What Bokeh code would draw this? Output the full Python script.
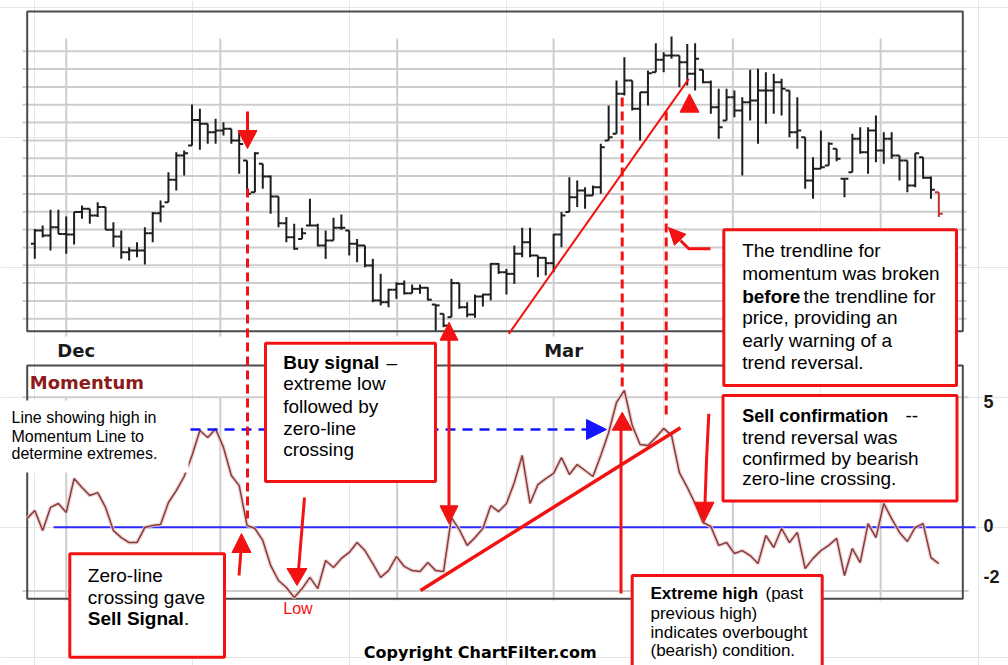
import numpy as np
from bokeh.plotting import figure
from bokeh.models import Range1d
from bokeh.core.properties import value
from bokeh.embed import file_html
from bokeh.resources import INLINE

# ---------------- data ----------------
opens = [44.20, 44.95, 44.67, 45.13, 44.76, 44.73, 45.98, 46.17, 45.79, 46.26,
         44.99, 44.61, 43.73, 43.83, 43.83, 44.80, 45.92, 46.54, 47.79, 49.15,
         49.71, 51.15, 50.93, 50.46, 50.55, 50.65, 49.99, 48.87, 47.10, 48.69,
         47.98, 46.86, 45.36, 44.57, 44.48, 45.23, 45.23, 44.11, 44.39, 45.10,
         44.95, 44.20, 44.11, 42.99, 41.03, 40.93, 41.63, 41.96, 41.43, 41.68,
         41.74, 40.80, 40.28, 40.09, 42.00, 40.65, 40.24, 41.25, 41.36, 43.08,
         42.61, 42.52, 43.64, 44.29, 43.55, 43.42, 43.12, 44.73, 45.98, 46.82,
         47.19, 46.91, 47.38, 49.99, 50.37, 52.61, 53.36, 51.77, 52.70, 53.82,
         54.52, 54.76, 54.76, 54.38, 53.73, 53.96, 53.26, 51.86, 51.12, 52.42,
         51.68, 52.14, 52.24, 52.80, 52.80, 53.26, 52.80, 50.46, 50.18, 47.75,
         48.41, 48.59, 49.53, 47.85, 48.22, 50.09, 49.34, 50.55, 49.43, 50.09,
         49.15, 48.87, 47.47, 49.06, 47.90, 47.10]
highs = [45.04, 45.23, 46.11, 46.11, 45.73, 45.98, 46.35, 46.17, 46.54, 46.26,
         45.41, 44.95, 44.01, 44.29, 45.13, 45.98, 46.63, 48.22, 49.34, 49.43,
         52.01, 51.77, 50.93, 51.21, 51.02, 50.65, 50.46, 48.87, 49.34, 48.69,
         48.03, 46.86, 45.70, 45.33, 45.10, 46.73, 45.33, 44.95, 45.66, 45.85,
         44.95, 44.48, 44.11, 43.36, 42.52, 41.68, 42.05, 42.15, 41.92, 41.92,
         41.77, 40.80, 40.28, 42.24, 42.00, 40.93, 41.36, 41.40, 43.12, 43.12,
         42.80, 44.11, 45.10, 45.10, 43.55, 43.45, 44.76, 45.98, 47.94, 47.75,
         47.38, 47.47, 49.81, 51.96, 53.36, 54.66, 53.36, 52.70, 53.92, 55.45,
         54.94, 55.82, 54.76, 55.41, 55.45, 53.96, 53.36, 52.89, 52.89, 52.80,
         52.42, 53.96, 54.01, 53.82, 53.73, 53.45, 52.80, 52.42, 50.18, 49.06,
         50.55, 49.90, 49.53, 47.85, 50.37, 50.74, 50.74, 51.40, 50.46, 50.46,
         49.15, 48.87, 49.28, 49.06, 47.98, 47.10]
lows = [43.36, 44.56, 43.83, 44.76, 43.64, 44.16, 45.61, 45.33, 45.70, 44.99,
        44.01, 43.36, 43.27, 43.45, 43.04, 44.29, 45.41, 46.54, 47.19, 48.03,
        49.71, 49.47, 49.81, 49.81, 50.27, 49.81, 48.13, 47.01, 47.10, 47.29,
        45.89, 45.13, 44.29, 43.87, 44.48, 45.23, 44.05, 43.36, 44.39, 44.99,
        43.55, 43.17, 42.89, 40.93, 40.75, 40.65, 41.12, 41.36, 41.43, 41.40,
        41.03, 39.34, 39.53, 40.09, 40.56, 40.09, 40.06, 40.69, 41.03, 42.52,
        41.36, 41.96, 43.45, 43.45, 42.33, 42.43, 42.61, 44.01, 45.98, 46.26,
        46.17, 46.91, 47.01, 49.99, 50.37, 52.52, 51.68, 49.99, 51.96, 53.82,
        53.82, 54.57, 52.98, 53.08, 52.80, 53.21, 51.49, 50.09, 51.12, 51.30,
        48.03, 51.12, 49.81, 50.93, 51.49, 51.40, 50.18, 49.53, 47.29, 46.73,
        48.41, 48.59, 48.83, 46.82, 48.22, 49.25, 48.13, 48.78, 48.69, 48.97,
        47.75, 47.10, 47.38, 47.85, 46.73, 45.70]
closes = [44.95, 44.67, 45.13, 44.76, 44.73, 45.98, 46.17, 45.79, 46.26, 44.99,
          44.61, 43.73, 43.83, 43.83, 44.80, 45.92, 46.29, 47.79, 49.15, 49.28,
          51.15, 50.93, 50.46, 50.55, 50.65, 49.99, 49.80, 47.01, 49.28, 47.98,
          46.86, 45.36, 44.57, 43.92, 44.80, 45.23, 44.11, 44.39, 45.10, 45.10,
          44.20, 44.11, 42.99, 41.03, 40.93, 41.63, 41.96, 41.43, 41.68, 41.74,
          41.07, 40.75, 39.62, 42.00, 40.65, 40.24, 41.25, 41.36, 43.08, 42.61,
          42.52, 43.64, 44.29, 43.55, 43.42, 43.12, 44.73, 45.79, 46.82, 47.19,
          46.91, 47.38, 49.62, 50.18, 52.61, 53.36, 51.77, 52.70, 53.77, 54.52,
          54.76, 54.76, 54.38, 53.73, 54.57, 53.26, 51.86, 50.74, 52.42, 51.68,
          52.14, 52.24, 52.80, 52.80, 53.26, 52.89, 50.46, 50.55, 47.75, 48.41,
          48.50, 49.81, 48.97, 47.85, 50.09, 49.34, 50.55, 49.43, 50.09, 49.15,
          48.87, 47.47, 49.28, 47.90, 47.23, 45.89]

momentum = [0.33, 0.64, -0.13, 0.76, 0.91, 0.57, 1.87, 1.53, 1.22, 1.33,
            0.76, -0.13, -0.40, -0.59, -0.59, -0.01, 0.07, 0.10, 0.95, 1.41,
            1.95, 2.76, 3.72, 3.45, 3.78, 3.07, 1.99, 1.60, 0.07, -0.05,
            -0.51, -1.47, -2.05, -2.32, -2.70, -2.36, -1.93, -2.36, -1.28, -1.55,
            -1.20, -0.97, -0.59, -0.90, -1.40, -1.93, -1.67, -1.13, -1.51, -1.67,
            -1.70, -1.36, -1.67, -1.70, 0.37, -0.09, -0.70, -0.40, -0.05, 0.83,
            0.60, 0.91, 1.72, 2.76, 0.91, 1.64, 1.87, 2.07, 2.68, 2.03,
            2.41, 2.18, 1.95, 2.76, 3.64, 4.80, 5.26, 3.91, 3.18, 3.14,
            3.45, 3.80, 3.53, 2.10, 1.53, 0.91, 0.18, 0.03, -0.70, -0.59,
            -1.01, -0.90, -1.09, -1.40, -0.32, -0.78, -0.05, -0.59, -0.20, -1.59,
            -1.20, -0.90, -0.70, -0.43, -1.86, -0.82, -1.36, 0.14, -0.40, 0.91,
            0.33, -0.20, -0.55, -0.01, 0.14, -1.17, -1.40]

month_grid = [4.0, 23.6, 46.1, 66.0, 88.8, 107.6]     # bar positions of vertical grid lines
month_labels = ["Dec", "", "", "Mar", "", ""]
price_grid = list(range(40, 56))
mom_grid = [5.0, -2.45]
mom_ticks = [5, 0, -2]
mom_tick_labels = ["5", "0", "-2"]

n = len(closes)
bar_idx = np.arange(n)
mom_idx = np.arange(-1, len(momentum) - 1)

# ---------------- figure & ranges ----------------
W, H = 1008, 665
X0, DX = 34.3, 7.861          # pixel layout of the bar axis
p = figure(width=W, height=H,
           x_range=Range1d((0 - X0) / DX, (W - X0) / DX),
           y_range=Range1d((526.7 - H) / 26.0, 526.7 / 26.0),
           x_axis_location=None, y_axis_location=None,
           toolbar_location=None, output_backend="svg", min_border=0)
p.outline_line_color = None
p.background_fill_color = "white"
p.border_fill_color = "white"
p.extra_x_ranges = {"sx": Range1d(0, W)}
p.extra_y_ranges = {"price": Range1d(40 - (H - 318.3) / 17.84, 40 + 318.3 / 17.84),
                    "sy": Range1d(H, 0)}

RED = "#f21212"
GRID = "#cdcdcd"
FRAME = "#4a4a4a"

def txt(x, y, s, size="19px", bold=False, color="black", font="Liberation Sans", align="left"):
    p.text(x=[x], y=[y], text=[s], x_range_name="sx", y_range_name="sy",
           text_font=value(font), text_font_size=size,
           text_font_style="bold" if bold else "normal",
           text_color=color, text_baseline="middle", text_align=align)

# ---------------- price panel ----------------
p.segment(x0=[22] * len(price_grid), x1=[966] * len(price_grid), y0=price_grid, y1=price_grid,
          x_range_name="sx", y_range_name="price", line_color=GRID, line_width=2)
p.segment(x0=month_grid, x1=month_grid, y0=[38] * 6, y1=[336] * 6,
          y_range_name="sy", line_color=GRID, line_width=2)
p.quad(left=[26.7], right=[962.3], top=[11], bottom=[330.7], x_range_name="sx", y_range_name="sy",
       fill_color=None, line_color=FRAME, line_width=2)

bar_colors = ["#1e1e1e"] * (n - 1) + ["#c03030"]
p.segment(x0=bar_idx, x1=bar_idx, y0=lows, y1=highs, y_range_name="price",
          line_color=bar_colors, line_width=2)
p.segment(x0=bar_idx - 0.5, x1=bar_idx, y0=opens, y1=opens, y_range_name="price",
          line_color=bar_colors, line_width=2)
p.segment(x0=bar_idx, x1=bar_idx + 0.5, y0=closes, y1=closes, y_range_name="price",
          line_color=bar_colors, line_width=2)

for g, lab in zip(month_grid, month_labels):
    if lab:
        p.text(x=[g], y=[350], text=[lab], y_range_name="sy", x_offset=10,
               text_font=value("DejaVu Sans"), text_font_style="bold", text_font_size="18px",
               text_color="#1a1a1a", text_align="center", text_baseline="middle")

# ---------------- momentum panel ----------------
p.segment(x0=[22] * len(mom_grid), x1=[968] * len(mom_grid), y0=mom_grid, y1=mom_grid,
          x_range_name="sx", line_color=GRID, line_width=2)
p.segment(x0=month_grid, x1=month_grid, y0=[397] * 6, y1=[600] * 6,
          y_range_name="sy", line_color=GRID, line_width=2)
p.quad(left=[26.7], right=[962.3], top=[365], bottom=[598.3], x_range_name="sx", y_range_name="sy",
       fill_color=None, line_color=FRAME, line_width=2)
txt(29.3, 381.7, "Momentum", size="18px", bold=True, color="#8e1b1b", font="DejaVu Sans")

p.segment(x0=[53], x1=[975], y0=[0], y1=[0], x_range_name="sx",
          line_color="#2a2aff", line_width=2)
p.line(mom_idx, momentum, line_color="#e9c9c9", line_width=4, line_alpha=0.8)
p.line(mom_idx, momentum, line_color="#8a3a3a", line_width=1.5)

p.text(x=[983] * 3, y=mom_ticks, text=mom_tick_labels, x_range_name="sx",
       y_offset=[4, -2, -3],
       text_font=value("Liberation Sans"), text_font_style="bold", text_font_size="18px",
       text_color="#1a1a1a", text_baseline="middle", text_align="left")

txt(297.5, 607.5, "Low", size="16px", color=RED, align="center")

# label with white background
p.quad(left=[0], right=[188], top=[400], bottom=[472], x_range_name="sx", y_range_name="sy",
       fill_color="white", line_color=None)
for yy, s in zip([417.3, 436, 453.3],
                 ["Line showing high in", "Momentum Line to", "determine extremes."]):
    txt(11, yy, s, size="16px")

# blue dashed reference line
p.segment(x0=[190], x1=[588], y0=[429], y1=[429], x_range_name="sx", y_range_name="sy",
          line_color="#1515ff", line_width=2.5, line_dash="10 7")
p.patches(xs=[[606, 586, 586]], ys=[[429, 419, 439]], x_range_name="sx", y_range_name="sy",
          fill_color="#1515ff", line_color="#1515ff")

# ---------------- red annotations ----------------
# dashed verticals
p.segment(x0=[247, 621.7, 665.7], x1=[247, 621.7, 665.7], y0=[188, 97, 111], y1=[518, 387, 418],
          x_range_name="sx", y_range_name="sy", line_color=RED, line_width=3, line_dash="9 5")
# trend lines
p.segment(x0=[508.3], x1=[688.3], y0=[333.3], y1=[78.3], x_range_name="sx", y_range_name="sy",
          line_color=RED, line_width=2)
p.segment(x0=[420], x1=[680], y0=[590], y1=[427.3], x_range_name="sx", y_range_name="sy",
          line_color=RED, line_width=3.5)
# arrow shafts
p.multi_line(xs=[[247, 247], [240.5, 238.5], [304, 298], [448.5, 448.5], [620.5, 620.5],
                 [708.3, 706, 704.5], [710, 688.3, 680]],
             ys=[[111, 132], [550, 575], [497, 570], [338, 506], [428, 593],
                 [413.3, 460, 503], [248.3, 248.3, 240]],
             x_range_name="sx", y_range_name="sy", line_color=RED, line_width=3)

def tri(tx, ty, d, L=18, Wd=9.5):
    if d == "down":
        return [tx, tx - Wd, tx + Wd], [ty, ty - L, ty - L]
    return [tx, tx - Wd, tx + Wd], [ty, ty + L, ty + L]

heads = [tri(247, 148, "down"), tri(241, 533, "up", 19), tri(296.5, 585, "down", 17, 10),
         tri(448.5, 321.7, "up", 18, 9), tri(448.5, 523.3, "down", 18, 9),
         tri(689, 93.3, "up", 18.4), tri(621.7, 411.7, "up", 18, 10),
         tri(703.5, 521.7, "down", 20, 10),
         ([668, 685.5, 673.9], [227, 233.8, 244.8])]
p.patches(xs=[h[0] for h in heads], ys=[h[1] for h in heads], x_range_name="sx", y_range_name="sy",
          fill_color=RED, line_color=RED, line_width=1)

# ---------------- text boxes ----------------
boxes = [(723.3, 956, 229.3, 385), (722.5, 956.5, 395, 500.5), (265, 435, 342.7, 481),
         (69.3, 224, 553.3, 656.7), (631.7, 821.7, 575, 700)]
p.quad(left=[b[0] for b in boxes], right=[b[1] for b in boxes],
       top=[b[2] for b in boxes], bottom=[b[3] for b in boxes],
       x_range_name="sx", y_range_name="sy", fill_color="white",
       line_color=RED, line_width=3)

# box a
txt(741.7, 250, "The trendline for")
txt(741.7, 273.3, "momentum was broken")
txt(741.7, 296, "before", bold=True)
txt(803, 296, "the trendline for")
txt(741.7, 317.3, "price, providing an")
txt(741.7, 340, "early warning of a")
txt(741.7, 361.7, "trend reversal.")
# box b
txt(741.7, 415, "Sell confirmation", size="18px", bold=True)
txt(905, 415, "--")
txt(741.7, 437.3, "trend reversal was")
txt(741.7, 458.3, "confirmed by bearish")
txt(741.7, 478.3, "zero-line crossing.")
# box c
txt(282.7, 361.7, "Buy signal", bold=True)
txt(386, 361.7, "\u2013")
txt(282.7, 383.3, "extreme low")
txt(282.7, 406, "followed by")
txt(282.7, 428.3, "zero-line")
txt(282.7, 449.3, "crossing")
# box d
txt(87.3, 575, "Zero-line")
txt(87.3, 597.3, "crossing gave")
txt(87.3, 618.3, "Sell Signal", bold=True)
txt(183.5, 618.3, ".")
# box e
txt(650, 593.3, "Extreme high", size="17px", bold=True)
txt(765, 593.3, "(past", size="17px")
txt(650, 612.7, "previous high)", size="17px")
txt(650, 631.7, "indicates overbought", size="17px")
txt(650, 650, "(bearish) condition.", size="17px")

txt(363.3, 651.7, "Copyright ChartFilter.com", size="16px", bold=True, font="DejaVu Sans")

open("out.html", "w").write(file_html(p, INLINE))
